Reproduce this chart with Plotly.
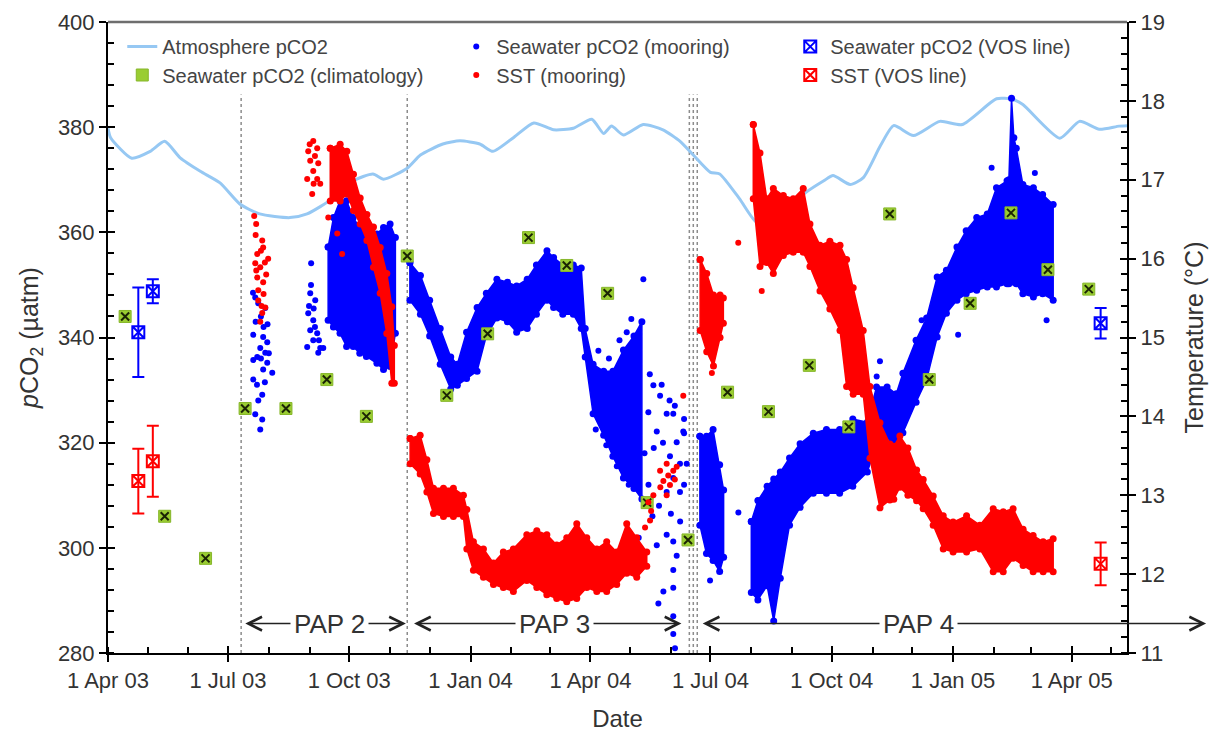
import plotly.graph_objects as go
import pandas as pd

START = pd.Timestamp("2003-04-01")

# ---------------- data (days since 1 Apr 2003) ----------------
ATM = [(0, 379.8), (2, 378.0), (18, 374.1), (32, 375.4), (43, 377.3), (55, 374.1), (70, 371.6),
       (85, 369.4), (100, 365.4), (115, 363.5), (138, 362.8), (151, 363.5), (171, 366.5),
       (186, 369.8), (201, 371.1), (209, 370.1), (227, 372.2), (237, 374.7), (254, 376.8),
       (267, 377.4), (282, 376.8), (292, 375.4), (308, 378.1), (323, 380.8), (338, 379.5),
       (353, 379.8), (367, 381.5), (376, 378.8), (382, 380.2), (391, 378.5), (406, 380.5),
       (421, 379.5), (434, 377.3), (444, 374.7), (457, 371.4), (464, 371.1), (479, 366.4),
       (493, 361.7), (510, 363.7), (530, 367.7), (543, 369.8), (550, 370.8), (563, 369.1),
       (573, 370.4), (586, 376.5), (596, 380.3), (611, 378.4), (631, 381.1), (648, 380.5),
       (674, 385.4), (686, 385.3), (694, 384.3), (722, 377.9), (737, 381.1), (752, 379.6),
       (767, 380.2), (774, 380.3)]

CLIM_DATES = ['2003-04-14', '2003-05-14', '2003-06-14', '2003-07-14', '2003-08-14', '2003-09-14',
              '2003-10-14', '2003-11-14', '2003-12-14', '2004-01-14', '2004-02-14', '2004-03-14',
              '2004-04-14', '2004-05-14', '2004-06-14', '2004-07-14', '2004-08-14', '2004-09-14',
              '2004-10-14', '2004-11-14', '2004-12-14', '2005-01-14', '2005-02-14', '2005-03-14',
              '2005-04-14']
CLIM_PCO2 = [344.0, 306.0, 298.0, 326.5, 326.5, 332.0, 325.0, 355.5, 329.0, 340.7, 359.0, 353.7,
             348.4, 308.6, 301.5, 329.6, 325.9, 334.7, 323.0, 363.5, 332.0, 346.5, 363.7, 352.9,
             349.2]

VOS_DATES = ['2003-04-24', '2003-05-05', '2005-04-23']
VOS_PCO2 = [341.0, 348.8, 342.7]
VOS_PCO2_ERR = [8.5, 2.3, 2.9]
VOS_SST = [13.18, 13.43, 12.13]
VOS_SST_ERR = [0.41, 0.45, 0.27]

# mooring pCO2: dense parts as (day, low, high) envelopes, sparse parts as (day, value)
PCO2_PAP2_BAND = [(167, 343.3, 357.2), (171, 342.0, 362.8), (176, 340.8, 366.0), (181, 338.3, 366.0),
                  (186, 338.3, 362.8), (191, 337.0, 360.9), (196, 336.4, 360.9), (204, 335.1, 359.7),
                  (209, 333.9, 360.9), (214, 334.5, 361.6), (218, 340.8, 359.0)]
PCO2_PAP3_BAND = [(229, 347.1, 354.2), (237, 344.4, 351.8), (244, 340.3, 347.1), (252, 334.9, 341.7),
                  (260, 330.2, 336.3), (265, 330.9, 334.9), (272, 332.2, 341.0), (280, 333.6, 345.7),
                  (287, 340.3, 348.4), (295, 343.7, 351.1), (303, 343.0, 350.5), (310, 341.0, 349.8),
                  (318, 341.7, 351.1), (325, 344.4, 353.8), (333, 347.1, 356.5), (338, 345.7, 355.2),
                  (345, 344.4, 353.8), (353, 344.4, 353.8), (359, 341.7, 353.2), (362, 336.3, 341.7),
                  (368, 325.5, 334.9), (376, 321.4, 333.6), (383, 317.4, 333.6), (391, 313.3, 337.6),
                  (399, 311.3, 340.3), (405, 309.3, 343.0)]
PCO2_PAP4A_BAND = [(449, 304.3, 321.2), (454, 298.9, 321.2), (459, 297.6, 322.5), (464, 295.5, 315.8),
                   (467, 298.2, 311.0)]
PCO2_PAP4B_BAND = [(488, 291.5, 305.0), (493, 290.1, 309.0), (500, 292.8, 311.7), (505, 286.1, 313.1),
                   (510, 294.2, 314.4), (517, 304.3, 317.1), (525, 307.7, 319.8), (535, 310.4, 321.8),
                   (545, 310.4, 322.5), (555, 310.4, 322.5), (565, 311.7, 324.5), (576, 314.4, 323.9),
                   (583, 319.8, 330.6), (591, 321.2, 330.6), (598, 318.5, 329.3), (603, 321.9, 333.2),
                   (613, 327.7, 339.5), (621, 332.0, 343.7), (629, 340.1, 351.5), (636, 344.6, 352.8),
                   (644, 347.1, 357.2), (651, 348.3, 360.3), (659, 349.0, 362.8), (667, 349.6, 363.5),
                   (674, 349.6, 368.5), (682, 350.2, 369.8), (683.4, 350.2, 370.0), (685.4, 350.9, 385.5),
                   (687.2, 350.5, 378.0), (689, 350.2, 376.0), (694, 348.3, 369.1), (702, 347.7, 368.5),
                   (709, 348.3, 367.2), (717, 347.1, 365.3)]
PCO2_POINTS = [(111.7, 347.6), (114, 346.5), (119.3, 345.6), (110.2, 340.5), (117.7, 340.1), (115.5, 338),
               (119.3, 337.1), (110.2, 335.7), (120.8, 335.2), (117.7, 333.9), (124.6, 333.3), (110.2, 332),
               (117, 329.1), (111.7, 325.4), (117, 324.4), (115.5, 322.5), (120.8, 339.1), (113.2, 336.3),
               (112, 343), (116, 344), (118, 342), (121, 342.5), (113, 331), (119, 331.5), (114, 328),
               (116, 336), (122, 337), (110, 348.5),
               (154.1, 354.1), (153.4, 348.4), (157.2, 347.1), (151.9, 344.6), (155.7, 343.3), (153.4, 341.4),
               (158.7, 340.8), (155.7, 339.5), (151.1, 338.2), (161, 338), (163.3, 338), (159.5, 337.1),
               (152.5, 346), (156, 345.5), (154, 350), (157, 342), (160, 339.5),
               (406.1, 351.1), (393.5, 341.0), (413.7, 330.9), (418.8, 328.9), (409.9, 325.8), (416.3, 322.1),
               (423.8, 325.5), (428.8, 325.5), (436.4, 322.1), (431.4, 320.1), (426.3, 317.4), (433.9, 316.0),
               (428.8, 313.3), (423.8, 310.6), (433.9, 310.6), (402.6, 301.9), (416.3, 300.5), (423.8, 302.5),
               (428.8, 301.2), (431.4, 298.5), (428.8, 295.8), (421.3, 291.7), (428.8, 292.4), (417.5, 289.4),
               (428.8, 287.0), (428.8, 283.6), (430.1, 280.9), (437, 324.5), (437, 321.8), (439, 316),
               (411, 333), (420, 331), (426, 328), (430, 327), (414, 319), (421, 320), (407, 318), (410, 312),
               (418, 308), (413, 306), (434, 305), (437, 312), (427, 306.5),
               (370, 322.5), (378, 319.5), (386, 315.5), (395, 312.0), (372, 337.5), (380, 336.0),
               (388, 339.5), (397, 343.5),
               (456.7, 293.8), (478.2, 306.7), (585.6, 335.5), (583.1, 332.6), (617.2, 343.3),
               (644.9, 340.5), (670.3, 372.3), (703.1, 371.3), (712, 343.3)]

# mooring SST (deg C)
SST_PAP2_BAND = [(168.6, 16.73, 17.40), (176.1, 16.73, 17.45), (181.2, 16.82, 17.36), (186.2, 16.61, 17.07),
                 (191.3, 16.44, 16.77), (196.4, 16.23, 16.56), (201.4, 15.89, 16.40), (206.5, 15.56, 16.14),
                 (211.5, 15.05, 15.81), (215.3, 14.42, 15.39), (217.2, 14.42, 14.90)]
SST_PAP3_BAND = [(229.2, 13.40, 13.72), (236.8, 13.27, 13.76), (241.9, 13.04, 13.45), (246.9, 12.77, 13.09),
                 (254.5, 12.73, 13.09), (262, 12.73, 13.09), (269.6, 12.73, 13.0), (272.2, 12.32, 12.82),
                 (277.2, 12.05, 12.41), (284.8, 11.96, 12.32), (292.4, 11.87, 12.14), (299.9, 11.83, 12.28),
                 (307.5, 11.78, 12.32), (317.7, 11.92, 12.50), (325.3, 11.83, 12.55), (332.9, 11.74, 12.50),
                 (340.4, 11.69, 12.37), (348, 11.65, 12.46), (355.6, 11.69, 12.64), (363.2, 11.83, 12.46),
                 (370.8, 11.78, 12.32), (378.3, 11.78, 12.41), (385.9, 11.87, 12.28), (393.5, 12.01, 12.64),
                 (401.1, 11.96, 12.46), (408.7, 12.10, 12.28)]
SST_PAP4A_BAND = [(449.2, 15.09, 15.99), (454.2, 14.82, 15.81), (459.3, 14.64, 15.54), (464.3, 15.0, 15.54),
                  (466.8, 15.18, 15.50)]
SST_PAP4B_BAND = [(489.5, 16.76, 17.70), (494.6, 15.90, 17.34), (499.7, 15.95, 16.76), (504.7, 15.81, 16.89),
                  (512.3, 16.04, 16.80), (519.8, 16.08, 16.76), (527.4, 16.08, 16.89), (532.5, 15.90, 16.44),
                  (540.1, 15.59, 16.17), (547.6, 15.36, 16.22), (555.3, 15.09, 16.17), (560.3, 14.38, 15.99),
                  (565.3, 14.28, 15.63), (572.9, 14.28, 15.09), (578, 13.47, 14.38), (585.6, 12.84, 13.92),
                  (593.1, 12.94, 13.65), (596.1, 12.95, 13.62), (600.7, 13.10, 13.75), (606.8, 13.0, 13.6),
                  (613.4, 12.93, 13.32), (618.4, 12.83, 13.20), (626, 12.62, 12.99), (633.6, 12.32, 12.74),
                  (641.1, 12.28, 12.66), (651.3, 12.28, 12.74), (661.4, 12.32, 12.62), (671.5, 12.03, 12.83),
                  (679.1, 12.03, 12.79), (686.6, 12.20, 12.83), (694.2, 12.11, 12.57), (701.8, 12.03, 12.49),
                  (709.4, 12.03, 12.41), (717, 12.03, 12.45)]
SST_POINTS = [(110.9, 16.54), (112.4, 16.44), (117, 16.23), (117.7, 16.14), (113.2, 16.06), (121.5, 16.0),
              (111.7, 15.94), (115.5, 15.89), (113.2, 15.76), (117.7, 15.7), (114, 15.47), (119.3, 15.38),
              (117, 15.31), (115.5, 15.2), (112, 16.3), (116, 16.1), (119, 15.95), (114, 15.6), (118, 15.55),
              (112.5, 15.85), (120, 15.8), (116.5, 15.4),
              (155.7, 17.49), (151.9, 17.36), (158.7, 17.4), (153.4, 17.24), (159.5, 17.21), (155.7, 17.11),
              (158.7, 17.01), (151.1, 17.01), (161, 16.95), (154.9, 16.82), (168.6, 16.73), (167.1, 16.52),
              (173.9, 16.32), (177.6, 16.06), (153, 17.45), (157, 17.3), (156, 16.95),
              (409.9, 12.91), (411.2, 12.68), (407.4, 12.59), (413.7, 13.0), (418.8, 13.31), (423.8, 13.40),
              (428.8, 13.31), (421.3, 13.18), (426.3, 13.13), (431.4, 13.36), (423.8, 13.0), (436.4, 14.26),
              (412, 12.8), (419, 13.1), (425, 13.25), (430, 13.2),
              (478.1, 16.20), (495.9, 15.59), (458.1, 14.55)]

DEPLOY_DATES = ['2003-07-11', '2003-11-14', '2004-06-15', '2004-06-18', '2004-06-21']
PAP_LABELS = ['PAP 2', 'PAP 3', 'PAP 4']
PAP_START = ['2003-07-13', '2003-11-18', '2004-06-24']
PAP_END = ['2003-11-13', '2004-06-09', '2005-07-12']
PAP_TEXT_AT = ['2003-09-16', '2004-03-05', '2004-12-06']
PAP_LEVEL = 285.6

# ---------------- helpers ----------------
BLUE = '#0000ff'
RED = '#ff0000'
GREEN = '#9acd32'
ATM_COLOR = '#96c8f3'


def dates(days):
    return [START + pd.Timedelta(days=float(v)) for v in days]


def band_trace(band, color, yaxis):
    days = [b[0] for b in band]
    lo = [b[1] for b in band]
    hi = [b[2] for b in band]
    xs = dates(days) + dates(days[::-1]) + dates(days[:1])
    ys = hi + lo[::-1] + hi[:1]
    return go.Scatter(x=xs, y=ys, fill='toself', fillcolor=color, mode='lines+markers',
                      line=dict(color=color, width=1.5), marker=dict(size=7, color=color),
                      showlegend=False, hoverinfo='skip', yaxis=yaxis)


fig = go.Figure()

# atmosphere
fig.add_trace(go.Scatter(x=dates([a[0] for a in ATM]), y=[a[1] for a in ATM], mode='lines',
                         line=dict(color=ATM_COLOR, width=3, shape='spline', smoothing=0.6),
                         name='Atmosphere pCO2', legend='legend', legendrank=1))

# seawater pCO2 mooring
for band in (PCO2_PAP2_BAND, PCO2_PAP3_BAND, PCO2_PAP4A_BAND, PCO2_PAP4B_BAND):
    fig.add_trace(band_trace(band, BLUE, 'y'))
fig.add_trace(go.Scatter(x=dates([p[0] for p in PCO2_POINTS]), y=[p[1] for p in PCO2_POINTS],
                         mode='markers', marker=dict(size=6, color=BLUE),
                         name='Seawater pCO2 (mooring)', legend='legend', legendrank=2))

# SST mooring
for band in (SST_PAP2_BAND, SST_PAP3_BAND, SST_PAP4A_BAND, SST_PAP4B_BAND):
    fig.add_trace(band_trace(band, RED, 'y2'))
fig.add_trace(go.Scatter(x=dates([p[0] for p in SST_POINTS]), y=[p[1] for p in SST_POINTS],
                         mode='markers', marker=dict(size=6, color=RED), yaxis='y2',
                         name='SST (mooring)', legend='legend2', legendrank=2))

# climatology: green square with a dark cross on top
fig.add_trace(go.Scatter(x=CLIM_DATES, y=CLIM_PCO2, mode='markers',
                         marker=dict(symbol='square', size=12, color=GREEN,
                                     line=dict(color='#86b62a', width=1)),
                         name='Seawater pCO2 (climatology)', legend='legend2', legendrank=1))
fig.add_trace(go.Scatter(x=CLIM_DATES, y=CLIM_PCO2, mode='markers',
                         marker=dict(symbol='x-thin-open', size=8, color='#1b2404',
                                     line=dict(color='#1b2404', width=2)),
                         showlegend=False, hoverinfo='skip'))

# VOS line
fig.add_trace(go.Scatter(x=VOS_DATES, y=VOS_PCO2, mode='markers',
                         marker=dict(symbol='square-x-open', size=12, color=BLUE, line=dict(width=2)),
                         error_y=dict(type='data', array=VOS_PCO2_ERR, color=BLUE, thickness=2, width=6),
                         name='Seawater pCO2 (VOS line)', legend='legend', legendrank=3))
fig.add_trace(go.Scatter(x=VOS_DATES, y=VOS_SST, mode='markers', yaxis='y2',
                         marker=dict(symbol='square-x-open', size=12, color=RED, line=dict(width=2)),
                         error_y=dict(type='data', array=VOS_SST_ERR, color=RED, thickness=2, width=6),
                         name='SST (VOS line)', legend='legend2', legendrank=3))

# carriers for the inward half of the major ticks
fig.add_trace(go.Scatter(x=[], y=[], xaxis='x3', yaxis='y3', showlegend=False, hoverinfo='skip'))
fig.add_trace(go.Scatter(x=[], y=[], xaxis='x', yaxis='y4', showlegend=False, hoverinfo='skip'))

XR = ['2003-04-01', '2005-05-13']
TICKFONT = dict(size=22, color='#333333')
common_x = dict(type='date', range=XR, dtick='M3', tick0='2003-04-01', showgrid=False, zeroline=False,
                automargin=False)

shapes = [dict(type='line', xref='paper', yref='paper', x0=0, x1=1, y0=1, y1=1,
               line=dict(color='#6e6e6e', width=2.5))]
for dd in DEPLOY_DATES:
    shapes.append(dict(type='line', xref='x', yref='paper', x0=dd, x1=dd, y0=0, y1=0.885,
                       layer='below', line=dict(color='#8c8c8c', width=1.5, dash='dot')))

annotations = []
for lab, s, e, c in zip(PAP_LABELS, PAP_START, PAP_END, PAP_TEXT_AT):
    annotations.append(dict(x=e, y=PAP_LEVEL, ax=s, ay=PAP_LEVEL, xref='x', yref='y', axref='x', ayref='y',
                            text='', showarrow=True, arrowhead=5, startarrowhead=5, arrowside='end+start',
                            arrowsize=1.8, startarrowsize=1.8, arrowwidth=1.5, arrowcolor='#222222'))
    annotations.append(dict(x=c, y=PAP_LEVEL, xref='x', yref='y', text=lab, showarrow=False,
                            bgcolor='white', borderpad=3, font=dict(size=26, color='#333333')))

fig.update_layout(
    width=1222, height=736,
    margin=dict(l=108, r=95, t=22, b=83, autoexpand=False),
    paper_bgcolor='white', plot_bgcolor='white',
    font=dict(family='Liberation Sans, Arial, sans-serif', color='#333333', size=22),
    xaxis=dict(**common_x, tickformat='%-d %b %y', ticks='outside', ticklen=7, tickwidth=2,
               tickcolor='black', showline=True, linecolor='black', linewidth=2, tickfont=TICKFONT,
               minor=dict(dtick='M1', tick0='2003-04-01', ticks='inside', ticklen=6, tickwidth=1.5,
                          tickcolor='black'),
               title=dict(text='Date', font=dict(size=24, color='#333333'), standoff=18)),
    xaxis3=dict(**common_x, overlaying='x', anchor='y', side='bottom', ticks='inside', ticklen=7,
                tickwidth=2, tickcolor='black', showticklabels=False, showline=False),
    yaxis=dict(range=[280, 400], dtick=20, ticks='outside', ticklen=7, tickwidth=2, tickcolor='black',
               showline=True, linecolor='black', linewidth=2, showgrid=False, zeroline=False,
               tickfont=TICKFONT, automargin=False,
               minor=dict(dtick=4, ticks='inside', ticklen=6, tickwidth=1.5, tickcolor='black'),
               title=dict(text='<i>p</i>CO<sub>2</sub> (µatm)', font=dict(size=25, color='#333333'),
                          standoff=12)),
    yaxis3=dict(range=[280, 400], dtick=20, overlaying='y', anchor='x', side='left', ticks='inside',
                ticklen=7, tickwidth=2, tickcolor='black', showticklabels=False, showline=False,
                showgrid=False, zeroline=False, automargin=False),
    yaxis2=dict(range=[11, 19], dtick=1, overlaying='y', anchor='x', side='right', ticks='outside',
                ticklen=7, tickwidth=2, tickcolor='black', showline=True, linecolor='black', linewidth=2,
                showgrid=False, zeroline=False, tickfont=TICKFONT, automargin=False,
                minor=dict(dtick=0.2, ticks='inside', ticklen=6, tickwidth=1.5, tickcolor='black'),
                title=dict(text='Temperature (°C)', font=dict(size=25, color='#333333'), standoff=22)),
    yaxis4=dict(range=[11, 19], dtick=1, overlaying='y', anchor='x', side='right', ticks='inside',
                ticklen=7, tickwidth=2, tickcolor='black', showticklabels=False, showline=False,
                showgrid=False, zeroline=False, automargin=False),
    legend=dict(orientation='h', x=0.014, y=0.961, xanchor='left', yanchor='middle', entrywidth=289,
                entrywidthmode='pixels', font=dict(size=20, color='#444444'), bgcolor='rgba(0,0,0,0)'),
    legend2=dict(orientation='h', x=0.014, y=0.916, xanchor='left', yanchor='middle', entrywidth=289,
                 entrywidthmode='pixels', font=dict(size=20, color='#444444'), bgcolor='rgba(0,0,0,0)'),
    shapes=shapes, annotations=annotations, showlegend=True,
)

# remove the browser's default page margin so the figure sits at the window origin
fig.write_html("out.html", config={'displayModeBar': False},
               post_script="document.body.style.margin='0px';")
